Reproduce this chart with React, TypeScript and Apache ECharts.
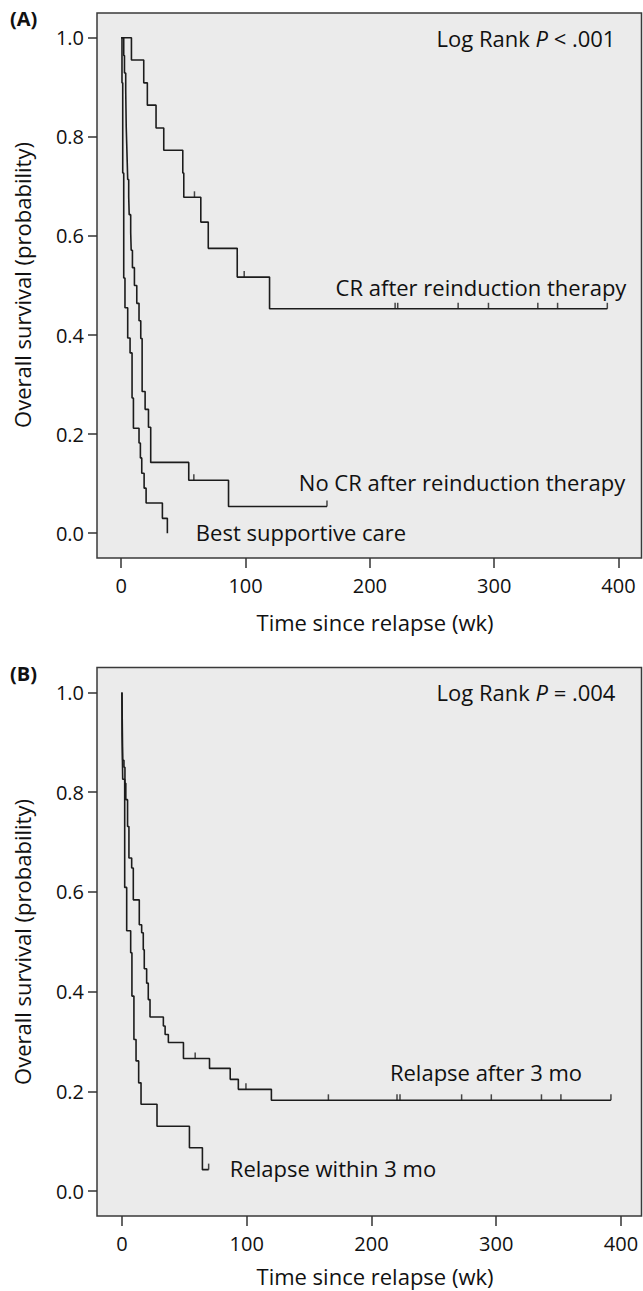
import React, { useEffect, useRef } from "react";
import * as echarts from "echarts";

// ---------- data ----------
const xTicks = [0, 100, 200, 300, 400];
const yTicks = [0, 0.2, 0.4, 0.6, 0.8, 1.0];

// Panel A
const crTimes = [0, 8.2, 18.1, 21, 28, 34.2, 49.5, 50.3, 64, 70, 93.3, 119.3, 391];
const crSurv = [1, 0.955, 0.909, 0.864, 0.818, 0.773, 0.727, 0.678, 0.628, 0.575, 0.517, 0.453, 0.453];
const crCensorT = [58.9, 98.9, 220.3, 222.4, 271, 295.4, 335.1, 351, 391];
const crCensorS = [0.678, 0.517, 0.453, 0.453, 0.453, 0.453, 0.453, 0.453, 0.453];

const nocrTimes = [0, 2.0, 2.6, 3.6, 3.8, 4.0, 4.4, 4.8, 5.2, 6.0, 6.4, 7.6, 8.0, 9.0, 10.6, 12.5, 14.3, 15.7, 16.8, 19.2, 21.9, 23.7, 54.3, 86.3, 165.5];
const nocrSurv = [1, 0.964, 0.929, 0.893, 0.857, 0.821, 0.786, 0.75, 0.714, 0.679, 0.643, 0.607, 0.571, 0.536, 0.5, 0.464, 0.429, 0.393, 0.286, 0.25, 0.214, 0.143, 0.107, 0.054, 0.054];
const nocrCensorT = [58.4, 165.5];
const nocrCensorS = [0.107, 0.054];

const bscTimes = [0, 0.6, 1.2, 2.0, 3.0, 5.2, 7.1, 8.7, 9.8, 14.3, 15.4, 16.5, 18.4, 20.0, 33.1, 37.1];
const bscSurv = [1, 0.909, 0.727, 0.515, 0.455, 0.394, 0.364, 0.273, 0.212, 0.182, 0.152, 0.121, 0.091, 0.061, 0.03, 0.0];

// Panel B
const afterTimes = [0, 0.3, 0.6, 1.6, 2.4, 3.1, 4.5, 5.6, 7.8, 9.1, 13.9, 15.8, 17.1, 17.9, 19.8, 21.1, 22.5, 33.2, 34.6, 37.2, 49.3, 70.2, 86.8, 93.3, 119.8, 392];
const afterSurv = [1, 0.93, 0.864, 0.85, 0.818, 0.785, 0.731, 0.668, 0.648, 0.584, 0.534, 0.518, 0.484, 0.446, 0.417, 0.384, 0.349, 0.331, 0.314, 0.298, 0.266, 0.246, 0.224, 0.204, 0.182, 0.182];
const afterCensorT = [58.7, 99.4, 165.5, 220.5, 222.9, 272.3, 296.1, 336.3, 351.9, 392];
const afterCensorS = [0.266, 0.204, 0.182, 0.182, 0.182, 0.182, 0.182, 0.182, 0.182, 0.182];

const withinTimes = [0, 0.1, 0.6, 2.2, 3.8, 7.0, 8.0, 9.6, 11.3, 13.4, 15.3, 28.1, 54.1, 64.5, 69.5];
const withinSurv = [1, 0.913, 0.826, 0.609, 0.522, 0.478, 0.391, 0.304, 0.261, 0.217, 0.174, 0.13, 0.087, 0.043, 0.043];
const withinCensorT = [69.5];
const withinCensorS = [0.043];

// ---------- helpers ----------
const zip = (a: number[], b: number[]) => a.map((v, i) => [v, b[i]]);
const FONT = "'Open Sans', 'Noto Sans', sans-serif";
const INK = "#1c1c1c";

function stepSeries(t: number[], s: number[], idx: number) {
  return {
    type: "line",
    xAxisIndex: idx,
    yAxisIndex: idx,
    step: "end",
    showSymbol: false,
    silent: true,
    data: zip(t, s),
    lineStyle: { color: INK, width: 1.6 },
    z: 3,
  };
}
function censorSeries(t: number[], s: number[], idx: number) {
  return {
    type: "scatter",
    xAxisIndex: idx,
    yAxisIndex: idx,
    symbol: "rect",
    symbolSize: [1.5, 6],
    symbolOffset: [0, -3],
    silent: true,
    data: zip(t, s),
    itemStyle: { color: INK },
    z: 4,
  };
}

function xAxis(idx: number, min: number, max: number) {
  return {
    type: "value",
    gridIndex: idx,
    position: "bottom",
    min,
    max,
    axisLine: { show: false, onZero: false },
    splitLine: { show: false },
    axisTick: { show: true, length: 10, lineStyle: { color: "#333", width: 1.5 }, customValues: xTicks },
    axisLabel: { customValues: xTicks, fontSize: 20, color: "#111", fontFamily: FONT, margin: 17 },
  };
}
function yAxis(idx: number) {
  return {
    type: "value",
    gridIndex: idx,
    position: "left",
    min: -0.05,
    max: 1.05,
    axisLine: { show: false, onZero: false },
    splitLine: { show: false },
    axisTick: { show: true, length: 9, lineStyle: { color: "#333", width: 1.5 }, customValues: yTicks },
    axisLabel: {
      customValues: yTicks,
      fontSize: 20,
      color: "#111",
      fontFamily: FONT,
      margin: 13,
      formatter: (v: number) => v.toFixed(1),
    },
  };
}

function txt(x: number, y: number, text: string, opts: any = {}) {
  return {
    type: "text",
    x,
    y,
    rotation: opts.rotation || 0,
    style: {
      text,
      fontSize: opts.fontSize || 22,
      fontFamily: FONT,
      fontWeight: opts.fontWeight || "normal",
      fill: "#111",
      align: opts.align || "center",
      verticalAlign: "middle",
      rich: opts.rich,
    },
    z: 10,
  };
}

export default function App() {
  const ref = useRef<HTMLDivElement>(null);
  useEffect(() => {
    document.body.style.margin = "0";
    if (!ref.current) return;
    const chart = echarts.init(ref.current, null, { renderer: "svg" });
    const gridStyle = {
      show: true,
      backgroundColor: "#ebebeb",
      borderColor: "#3a3a3a",
      borderWidth: 1.5,
    };
    const richP = {
      i: { fontStyle: "italic", fontSize: 22, fontFamily: FONT, fill: "#111" },
    };
    chart.setOption({
      animation: false,
      backgroundColor: "#ffffff",
      grid: [
        { left: 97, top: 13, width: 544.5, height: 545, ...gridStyle },
        { left: 97, top: 667.5, width: 544.5, height: 548.5, ...gridStyle },
      ],
      xAxis: [xAxis(0, -19.5, 418.5), xAxis(1, -20, 416.5)],
      yAxis: [yAxis(0), yAxis(1)],
      series: [
        stepSeries(crTimes, crSurv, 0),
        censorSeries(crCensorT, crCensorS, 0),
        stepSeries(nocrTimes, nocrSurv, 0),
        censorSeries(nocrCensorT, nocrCensorS, 0),
        stepSeries(bscTimes, bscSurv, 0),
        stepSeries(afterTimes, afterSurv, 1),
        censorSeries(afterCensorT, afterCensorS, 1),
        stepSeries(withinTimes, withinSurv, 1),
        censorSeries(withinCensorT, withinCensorS, 1),
      ],
      graphic: [
        txt(10, 18, "(A)", { fontSize: 20, fontWeight: "bold", align: "left" }),
        txt(10, 673, "(B)", { fontSize: 20, fontWeight: "bold", align: "left" }),
        txt(526, 38, "Log Rank {i|P} < .001", { rich: richP }),
        txt(526, 692, "Log Rank {i|P} = .004", { rich: richP }),
        txt(481, 287, "CR after reinduction therapy"),
        txt(462, 482, "No CR after reinduction therapy"),
        txt(301, 532, "Best supportive care"),
        txt(486, 1072, "Relapse after 3 mo"),
        txt(333, 1168, "Relapse within 3 mo"),
        txt(375, 622, "Time since relapse (wk)"),
        txt(375, 1276, "Time since relapse (wk)"),
        txt(22, 285, "Overall survival (probability)", { rotation: Math.PI / 2 }),
        txt(22, 942, "Overall survival (probability)", { rotation: Math.PI / 2 }),
      ],
    });
    return () => chart.dispose();
  }, []);
  return <div ref={ref} style={{ width: 643, height: 1291 }} />;
}
